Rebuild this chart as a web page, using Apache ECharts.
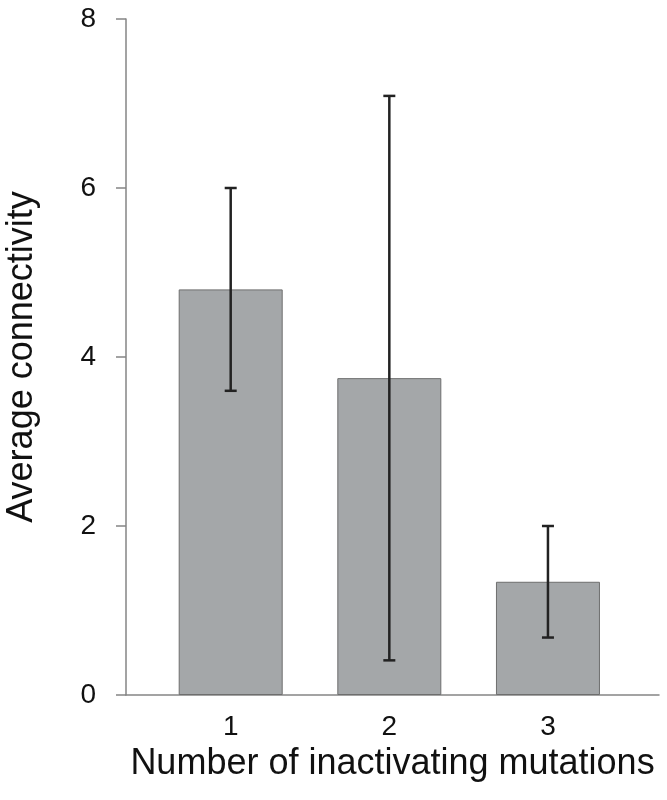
<!DOCTYPE html>
<html>
<head>
<meta charset="utf-8">
<script src="https://cdn.jsdelivr.net/npm/echarts@6/dist/echarts.min.js"></script>
<style>
  html, body { margin: 0; padding: 0; background: #fff; }
  #chart { width: 667px; height: 800px; }
</style>
</head>
<body>
<div id="chart"></div>
<script>
// values
const mutationCounts = [1, 2, 3]
const meanConnectivity = [4.8, 3.75, 1.34]
const errorLow = [3.6, 0.41, 0.68]
const errorHigh = [6.0, 7.09, 2.0]
const yTicks = [0, 2, 4, 6, 8]

const FONT = '"Liberation Sans", Arial, sans-serif'
const AXIS_GRAY = '#858585'

const chart = echarts.init(document.getElementById('chart'), null, { renderer: 'canvas' })

chart.setOption({
  backgroundColor: '#fff',
  animation: false,
  textStyle: { fontFamily: FONT, color: '#111' },
  grid: { left: 126, right: 8, top: 19, bottom: 105, containLabel: false, outerBoundsMode: 'none' },
  xAxis: {
    type: 'value',
    min: 0.34,
    max: 3.7,
    name: 'Number of inactivating mutations',
    nameLocation: 'middle',
    nameGap: 51,
    nameTextStyle: { fontFamily: FONT, fontSize: 36, color: '#111' },
    axisLine: { show: true, lineStyle: { color: AXIS_GRAY, width: 1.5 } },
    axisTick: { show: false },
    splitLine: { show: false },
    axisLabel: {
      customValues: mutationCounts,
      formatter: v => String(v),
      fontFamily: FONT,
      fontSize: 28,
      color: '#111',
      margin: 18,
    },
  },
  yAxis: {
    type: 'value',
    min: yTicks[0],
    max: yTicks[yTicks.length - 1],
    interval: 2,
    name: 'Average connectivity',
    nameLocation: 'middle',
    nameGap: 86,
    nameTextStyle: { fontFamily: FONT, fontSize: 36, color: '#111' },
    axisLine: { show: true, lineStyle: { color: AXIS_GRAY, width: 1.5 } },
    axisTick: { show: true, inside: false, length: 10, lineStyle: { color: AXIS_GRAY, width: 1.5 } },
    splitLine: { show: false },
    axisLabel: { fontFamily: FONT, fontSize: 28, color: '#111', margin: 30 },
  },
  series: [
    {
      type: 'bar',
      barWidth: 104,
      data: mutationCounts.map((c, i) => [c, meanConnectivity[i]]),
      itemStyle: { color: '#a4a7a9', borderColor: '#6e6e6e', borderWidth: 1 },
      silent: true,
      z: 2,
    },
    {
      type: 'custom',
      data: mutationCounts.map((c, i) => [c, errorLow[i], errorHigh[i]]),
      encode: { x: 0, y: [1, 2] },
      z: 5,
      silent: true,
      renderItem: (params, api) => {
        const x = api.value(0)
        const lo = api.coord([x, api.value(1)])
        const hi = api.coord([x, api.value(2)])
        const half = 6
        const style = { stroke: '#222', lineWidth: 2.5 }
        return {
          type: 'group',
          children: [
            { type: 'line', shape: { x1: lo[0], y1: lo[1], x2: hi[0], y2: hi[1] }, style },
            { type: 'line', shape: { x1: hi[0] - half, y1: hi[1], x2: hi[0] + half, y2: hi[1] }, style },
            { type: 'line', shape: { x1: lo[0] - half, y1: lo[1], x2: lo[0] + half, y2: lo[1] }, style },
          ],
        }
      },
    },
  ],
})
</script>
</body>
</html>
